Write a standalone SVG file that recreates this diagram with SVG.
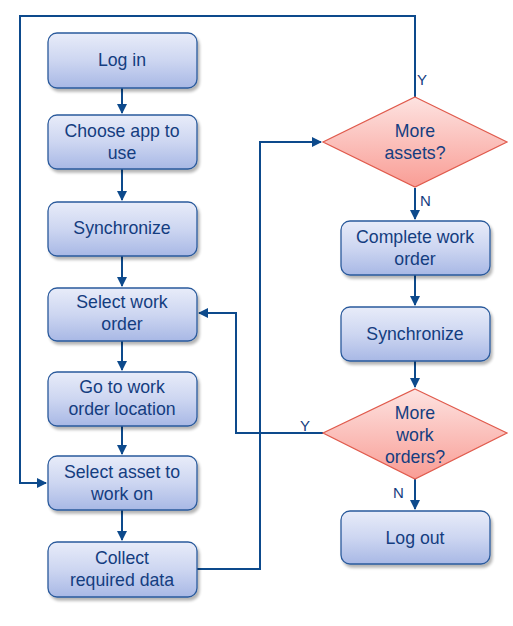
<svg xmlns="http://www.w3.org/2000/svg" width="513" height="626" viewBox="0 0 513 626">
<defs>
<linearGradient id="gb" x1="0" y1="0" x2="0" y2="1"><stop offset="0" stop-color="#e8ecf9"/><stop offset="0.5" stop-color="#cdd6f1"/><stop offset="1" stop-color="#a8b8e5"/></linearGradient>
<linearGradient id="gr" x1="0" y1="0" x2="0" y2="1"><stop offset="0" stop-color="#fde3e1"/><stop offset="1" stop-color="#f99d95"/></linearGradient>
<filter id="sh" x="-10%" y="-10%" width="130%" height="140%"><feGaussianBlur in="SourceAlpha" stdDeviation="1.5"/><feOffset dx="2" dy="3"/><feComponentTransfer><feFuncA type="linear" slope="0.3"/></feComponentTransfer><feMerge><feMergeNode/><feMergeNode in="SourceGraphic"/></feMerge></filter>
<marker id="ar" markerWidth="10" markerHeight="10" refX="9" refY="5" orient="auto" markerUnits="userSpaceOnUse"><path d="M0,0 L10,5 L0,10 z" fill="#0d4a8c"/></marker>
</defs>
<style>
.box{fill:url(#gb);stroke:#2a5a9c;stroke-width:1.3;filter:url(#sh)}
.dia{fill:url(#gr);stroke:#e05a4c;stroke-width:1.2}
.t{font-family:"Liberation Sans",Arial,sans-serif;font-size:17.7px;fill:#143d80;text-anchor:middle}
.lbl{font-family:"Liberation Sans",Arial,sans-serif;font-size:15px;fill:#143d80}
.c{fill:none;stroke:#0d4a8c;stroke-width:2}
</style>
<g id="connectors">
<path class="c" d="M122,88 V113" marker-end="url(#ar)"/>
<path class="c" d="M122,169 V200" marker-end="url(#ar)"/>
<path class="c" d="M122,256 V286" marker-end="url(#ar)"/>
<path class="c" d="M122,341 V370" marker-end="url(#ar)"/>
<path class="c" d="M122,426 V454" marker-end="url(#ar)"/>
<path class="c" d="M122,510 V540" marker-end="url(#ar)"/>
<path class="c" d="M197,569 H260 V142 H321" marker-end="url(#ar)"/>
<path class="c" d="M415,97 V16 H20 V483 H46" marker-end="url(#ar)"/>
<path class="c" d="M415,188 V219" marker-end="url(#ar)"/>
<path class="c" d="M415,275 V305" marker-end="url(#ar)"/>
<path class="c" d="M415,361 V387" marker-end="url(#ar)"/>
<path class="c" d="M323,433 H236 V313 H199" marker-end="url(#ar)"/>
<path class="c" d="M415,479 V509" marker-end="url(#ar)"/>
<text class="lbl" x="417" y="85">Y</text>
<text class="lbl" x="420" y="206">N</text>
<text class="lbl" x="300" y="431">Y</text>
<text class="lbl" x="393" y="498">N</text>
</g>
<g id="login"><rect class="box" x="48" y="33" width="149" height="55" rx="9"/><text class="t" x="122" y="66">Log in</text></g>
<g id="chooseapp"><rect class="box" x="48" y="115" width="149" height="54" rx="9"/><text class="t" x="122" y="137">Choose app to</text><text class="t" x="122" y="159">use</text></g>
<g id="sync1"><rect class="box" x="48" y="202" width="149" height="54" rx="9"/><text class="t" x="122" y="234">Synchronize</text></g>
<g id="selectwo"><rect class="box" x="48" y="288" width="149" height="53" rx="9"/><text class="t" x="122" y="308">Select work</text><text class="t" x="122" y="330">order</text></g>
<g id="gotowo"><rect class="box" x="48" y="372" width="149" height="54" rx="9"/><text class="t" x="122" y="393">Go to work</text><text class="t" x="122" y="415">order location</text></g>
<g id="selectasset"><rect class="box" x="48" y="456" width="149" height="54" rx="9"/><text class="t" x="122" y="478">Select asset to</text><text class="t" x="122" y="500">work on</text></g>
<g id="collect"><rect class="box" x="48" y="542" width="149" height="55" rx="9"/><text class="t" x="122" y="564">Collect</text><text class="t" x="122" y="586">required data</text></g>
<g id="moreassets"><polygon class="dia" points="415,97 507,142 415,187 323,142"/><text class="t" x="415" y="137">More</text><text class="t" x="415" y="159">assets?</text></g>
<g id="completewo"><rect class="box" x="341" y="221" width="149" height="54" rx="9"/><text class="t" x="415" y="243">Complete work</text><text class="t" x="415" y="265">order</text></g>
<g id="sync2"><rect class="box" x="341" y="307" width="149" height="54" rx="9"/><text class="t" x="415" y="340">Synchronize</text></g>
<g id="moreworkorders"><polygon class="dia" points="415,389 507,433 415,479 323,433"/><text class="t" x="415" y="419">More</text><text class="t" x="415" y="441">work</text><text class="t" x="415" y="463">orders?</text></g>
<g id="logout"><rect class="box" x="341" y="511" width="149" height="53" rx="9"/><text class="t" x="415" y="544">Log out</text></g>
</svg>
